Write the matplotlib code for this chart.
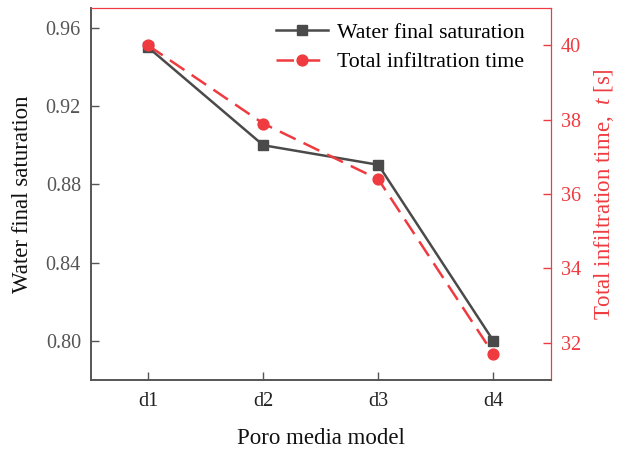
import matplotlib
matplotlib.use("Agg")
import matplotlib.pyplot as plt

categories = ["d1", "d2", "d3", "d4"]
water_sat = [0.95, 0.90, 0.89, 0.80]
infil_time = [40.0, 37.9, 36.4, 31.7]

plt.rcParams['font.family'] = ['Liberation Serif', 'DejaVu Serif']
plt.rcParams['mathtext.fontset'] = 'custom'
plt.rcParams['mathtext.it'] = 'Liberation Serif:italic'
plt.rcParams['mathtext.rm'] = 'Liberation Serif'

gray = '#4a4a4a'
red = '#ef3b3f'

fig = plt.figure(figsize=(6.19, 4.49), dpi=100)
ax = fig.add_axes([0.1465, 0.1537, 0.7435, 0.8278])
ax2 = ax.twinx()

x = list(range(1, len(categories) + 1))
l1, = ax.plot(x, water_sat, color=gray, lw=1.8, marker='s', ms=7, label='Water final saturation')
l2, = ax2.plot(x, infil_time, color=red, lw=1.8, ls=(0, (7, 3.5)), marker='o', ms=7.8, label='Total infiltration time')

ax.set_xlim(0.5, 4.5)
ax.set_ylim(0.78, 0.97)
ax.set_yticks([0.80, 0.84, 0.88, 0.92, 0.96])
ax.set_yticklabels(['0.80', '0.84', '0.88', '0.92', '0.96'])
ax.set_xticks(x)
ax.set_xticklabels(categories)
ax2.set_ylim(31, 41)
ax2.set_yticks([32, 34, 36, 38, 40])

ax.tick_params(axis='both', direction='in', length=6, width=1, labelsize=14.5, colors='#555555', pad=7)
ax.tick_params(axis='x', labelcolor='#222222', pad=9)
ax2.tick_params(axis='y', direction='in', length=6, width=1, labelsize=14.5, colors=red, pad=7)

for s in ['left', 'bottom']:
    ax.spines[s].set_color('#555555')
    ax2.spines[s].set_color('#555555')
    ax.spines[s].set_linewidth(1.2)
    ax2.spines[s].set_linewidth(1.2)
for a in (ax, ax2):
    a.spines['right'].set_color(red)
    a.spines['top'].set_color(red)

ax.set_xlabel('Poro media model', fontsize=16.5, color='#111111', labelpad=12)
ax.set_ylabel('Water final saturation', fontsize=16.5, color='#111111', labelpad=9)
ax2.set_ylabel('Total infiltration time,  $t$ [s]', fontsize=16.5, color=red, labelpad=8)

ax2.legend([l1, l2], ['Water final saturation', 'Total infiltration time'],
           loc='upper right', bbox_to_anchor=(0.961, 0.985), frameon=False,
           fontsize=15.7, handlelength=2.4, handletextpad=0.4,
           borderaxespad=0.0, labelspacing=0.42)

fig.savefig('out.png', dpi=100)
